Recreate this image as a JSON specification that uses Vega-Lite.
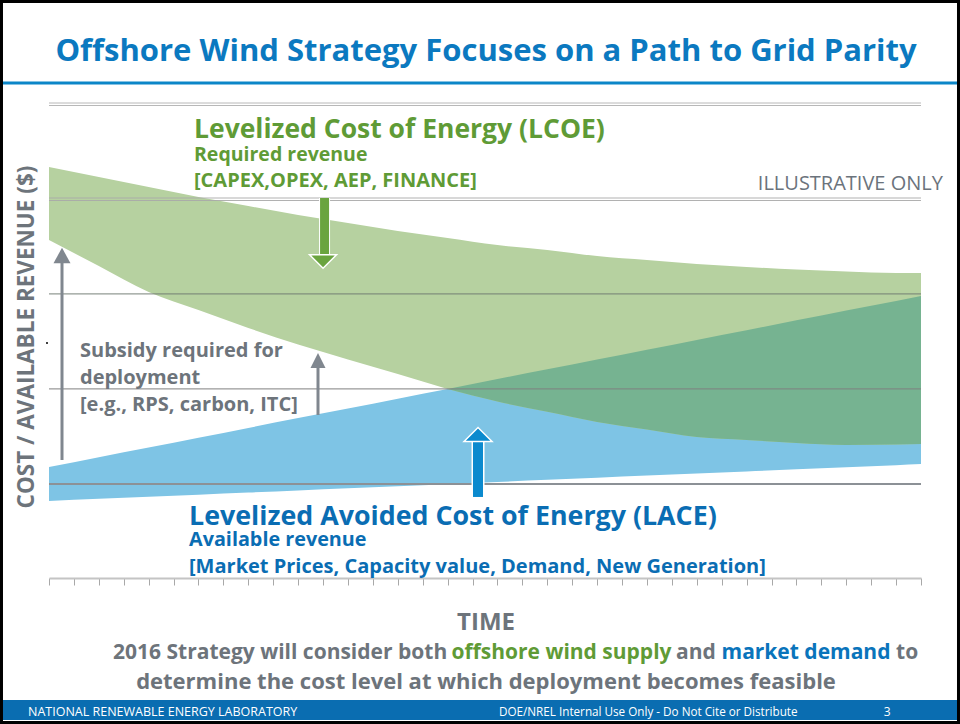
{
  "$schema": "https://vega.github.io/schema/vega-lite/v6.json",
  "width": 872,
  "height": 475,
  "autosize": {"type": "none"},
  "padding": {"left": 49, "top": 103, "right": 39, "bottom": 146},
  "background": "white",
  "config": {
    "view": {"stroke": null},
    "axisY": {"disable": true},
    "axisX": {"tickCount": 35, "labels": false, "grid": false, "domainColor": "#c4c4c4", "domainWidth": 2, "tickColor": "#a8a8a8", "tickSize": 7, "tickWidth": 1},
    "text": {"font": "Open Sans", "fontWeight": "bold"}
  },
  "datasets": {
    "bands": [
      {"t": 0, "gh": 4.326, "gl": 3.558, "bh": 1.168, "bl": 0.811},
      {"t": 2, "gh": 4.221, "gl": 3.284, "bh": 1.272, "bl": 0.833},
      {"t": 4, "gh": 4.116, "gl": 3.011, "bh": 1.374, "bl": 0.855},
      {"t": 6, "gh": 4.011, "gl": 2.821, "bh": 1.477, "bl": 0.877},
      {"t": 8, "gh": 3.916, "gl": 2.632, "bh": 1.58, "bl": 0.9},
      {"t": 10, "gh": 3.821, "gl": 2.458, "bh": 1.683, "bl": 0.922},
      {"t": 12, "gh": 3.737, "gl": 2.301, "bh": 1.785, "bl": 0.944},
      {"t": 14, "gh": 3.653, "gl": 2.147, "bh": 1.888, "bl": 0.966},
      {"t": 16, "gh": 3.579, "gl": 1.99, "bh": 1.99, "bl": 0.988},
      {"t": 18, "gh": 3.505, "gl": 1.857, "bh": 2.095, "bl": 1.011},
      {"t": 20, "gh": 3.453, "gl": 1.749, "bh": 2.197, "bl": 1.033},
      {"t": 22, "gh": 3.389, "gl": 1.642, "bh": 2.3, "bl": 1.056},
      {"t": 24, "gh": 3.347, "gl": 1.563, "bh": 2.403, "bl": 1.078},
      {"t": 26, "gh": 3.305, "gl": 1.484, "bh": 2.506, "bl": 1.1},
      {"t": 28, "gh": 3.274, "gl": 1.453, "bh": 2.608, "bl": 1.122},
      {"t": 30, "gh": 3.247, "gl": 1.421, "bh": 2.712, "bl": 1.144},
      {"t": 32, "gh": 3.226, "gl": 1.4, "bh": 2.815, "bl": 1.166},
      {"t": 34, "gh": 3.211, "gl": 1.405, "bh": 2.917, "bl": 1.188},
      {"t": 35, "gh": 3.211, "gl": 1.411, "bh": 2.968, "bl": 1.2}
    ],
    "one": [{}]
  },
  "layer": [
    {
      "data": {"name": "bands"},
      "mark": {"type": "area", "color": "#7ec4e5", "interpolate": "monotone"},
      "encoding": {
        "x": {"field": "t", "type": "quantitative",
              "scale": {"domain": [0, 35], "nice": false, "zero": false},
              "axis": {"title": null, "labels": false, "grid": false, "tickCount": 35}},
        "y": {"field": "bl", "type": "quantitative", "scale": {"domain": [0, 5], "nice": false, "zero": false}},
        "y2": {"field": "bh"}
      }
    },
    {
      "data": {"name": "bands"},
      "mark": {"type": "area", "color": "#b6d1a0", "interpolate": "monotone"},
      "encoding": {
        "x": {"field": "t", "type": "quantitative"},
        "y": {"field": "gl", "type": "quantitative"},
        "y2": {"field": "gh"}
      }
    },
    {
      "data": {"name": "bands"},
      "transform": [{"filter": "datum.t >= 16"}],
      "mark": {"type": "area", "color": "#76b391", "interpolate": "monotone"},
      "encoding": {
        "x": {"field": "t", "type": "quantitative"},
        "y": {"field": "gl", "type": "quantitative"},
        "y2": {"field": "bh"}
      }
    },
    {
      "data": {"name": "one"},
      "mark": {"type": "rule", "color": "#b8b8b8", "strokeWidth": 1},
      "encoding": {"x": {"datum": 0}, "x2": {"datum": 35}, "y": {"datum": 5}}
    },
    {
      "data": {"name": "one"},
      "mark": {"type": "rule", "color": "#b8b8b8", "strokeWidth": 1, "yOffset": 2.5},
      "encoding": {"x": {"datum": 0}, "x2": {"datum": 35}, "y": {"datum": 5}}
    },
    {
      "data": {"name": "one"},
      "mark": {"type": "rule", "color": "#a8a8a8", "strokeWidth": 1, "opacity": 0.9},
      "encoding": {"x": {"datum": 0}, "x2": {"datum": 35}, "y": {"datum": 4}}
    },
    {
      "data": {"name": "one"},
      "mark": {"type": "rule", "color": "#a8a8a8", "strokeWidth": 1, "opacity": 0.9, "yOffset": 2.5},
      "encoding": {"x": {"datum": 0}, "x2": {"datum": 35}, "y": {"datum": 4}}
    },
    {
      "data": {"name": "one"},
      "mark": {"type": "rule", "color": "#6f7a70", "strokeWidth": 1.2, "opacity": 0.75},
      "encoding": {"x": {"datum": 0}, "x2": {"datum": 35}, "y": {"datum": 2.99}}
    },
    {
      "data": {"name": "one"},
      "mark": {"type": "rule", "color": "#7f7f7f", "strokeWidth": 1.2, "opacity": 0.8},
      "encoding": {"x": {"datum": 0}, "x2": {"datum": 35}, "y": {"datum": 1.99}}
    },
    {
      "data": {"name": "one"},
      "mark": {"type": "rule", "color": "#8c9196", "strokeWidth": 2},
      "encoding": {"x": {"datum": 0}, "x2": {"datum": 35}, "y": {"datum": 0.99}}
    },
    {
      "data": {"name": "one"},
      "mark": {"type": "rule", "color": "#ffffff", "strokeWidth": 11},
      "encoding": {"x": {"datum": 11.06}, "y": {"datum": 4.0}, "y2": {"datum": 3.39}}
    },
    {
      "data": {"name": "one"},
      "mark": {"type": "rule", "color": "#6aa43f", "strokeWidth": 9},
      "encoding": {"x": {"datum": 11.06}, "y": {"datum": 4.0}, "y2": {"datum": 3.39}}
    },
    {
      "data": {"name": "one"},
      "mark": {"type": "point", "shape": "M-1,-0.5L1,-0.5L0,0.5Z", "filled": true, "color": "#6aa43f", "stroke": "#ffffff", "strokeWidth": 1.5, "size": 729, "opacity": 1},
      "encoding": {"x": {"datum": 11.0}, "y": {"datum": 3.332}}
    },
    {
      "data": {"name": "one"},
      "mark": {"type": "rule", "color": "#ffffff", "strokeWidth": 13},
      "encoding": {"x": {"datum": 17.22}, "y": {"datum": 1.45}, "y2": {"datum": 0.853}}
    },
    {
      "data": {"name": "one"},
      "mark": {"type": "rule", "color": "#0b8ace", "strokeWidth": 10},
      "encoding": {"x": {"datum": 17.22}, "y": {"datum": 1.45}, "y2": {"datum": 0.853}}
    },
    {
      "data": {"name": "one"},
      "mark": {"type": "point", "shape": "M-1,0.5L1,0.5L0,-0.5Z", "filled": true, "color": "#0b8ace", "stroke": "#ffffff", "strokeWidth": 1.5, "size": 784, "opacity": 1},
      "encoding": {"x": {"datum": 17.22}, "y": {"datum": 1.511}}
    },
    {
      "data": {"name": "one"},
      "mark": {"type": "rule", "color": "#80878f", "strokeWidth": 3},
      "encoding": {"x": {"datum": 0.522}, "y": {"datum": 3.32}, "y2": {"datum": 1.242}}
    },
    {
      "data": {"name": "one"},
      "mark": {"type": "point", "shape": "M-1,0.9L1,0.9L0,-0.9Z", "filled": true, "color": "#80878f", "size": 289, "opacity": 1},
      "encoding": {"x": {"datum": 0.522}, "y": {"datum": 3.395}}
    },
    {
      "data": {"name": "one"},
      "mark": {"type": "rule", "color": "#80878f", "strokeWidth": 3},
      "encoding": {"x": {"datum": 10.797}, "y": {"datum": 2.22}, "y2": {"datum": 1.716}}
    },
    {
      "data": {"name": "one"},
      "mark": {"type": "point", "shape": "M-1,1L1,1L0,-1Z", "filled": true, "color": "#80878f", "size": 225, "opacity": 1},
      "encoding": {"x": {"datum": 10.797}, "y": {"datum": 2.289}}
    },
    {
      "data": {"name": "one"},
      "mark": {"type": "point", "filled": true, "color": "#000000", "size": 4, "opacity": 1},
      "encoding": {"x": {"datum": -0.08}, "y": {"datum": 2.474}}
    },
    {
      "data": {"name": "one"},
      "mark": {"type": "rule", "color": "#0b86c8", "strokeWidth": 3},
      "encoding": {"x": {"datum": -1.886}, "x2": {"datum": 36.48}, "y": {"datum": 5.211}}
    },
    {
      "data": {"name": "one"},
      "mark": {"type": "rect", "color": "#0a6db1"},
      "encoding": {"x": {"datum": -1.886}, "x2": {"datum": 36.48}, "y": {"datum": -1.284}, "y2": {"datum": -1.495}}
    },
    {
      "data": {"name": "one"},
      "mark": {"type": "rect", "fill": null, "filled": false, "stroke": "#000000", "strokeWidth": 3},
      "encoding": {"x": {"datum": -1.907}, "x2": {"datum": 36.505}, "y": {"datum": 6.068}, "y2": {"datum": -1.521}}
    },
    {
      "data": {"name": "one"},
      "mark": {"type": "text", "text": "Offshore Wind Strategy Focuses on a Path to Grid Parity", "fontSize": 31, "color": "#0b79c0", "align": "center", "baseline": "alphabetic"},
      "encoding": {"x": {"datum": 17.54}, "y": {"datum": 5.442}}
    },
    {
      "data": {"name": "one"},
      "mark": {"type": "text", "text": "Levelized Cost of Energy (LCOE)", "fontSize": 26.5, "color": "#5f9b36", "align": "left", "baseline": "alphabetic"},
      "encoding": {"x": {"datum": 5.82}, "y": {"datum": 4.63}}
    },
    {
      "data": {"name": "one"},
      "mark": {"type": "text", "text": "Required revenue", "fontSize": 19.5, "color": "#5f9b36", "align": "left", "baseline": "alphabetic"},
      "encoding": {"x": {"datum": 5.82}, "y": {"datum": 4.39}}
    },
    {
      "data": {"name": "one"},
      "mark": {"type": "text", "text": "[CAPEX,OPEX, AEP, FINANCE]", "fontSize": 20, "color": "#5f9b36", "align": "left", "baseline": "alphabetic"},
      "encoding": {"x": {"datum": 5.82}, "y": {"datum": 4.116}}
    },
    {
      "data": {"name": "one"},
      "mark": {"type": "text", "text": "ILLUSTRATIVE ONLY", "fontSize": 20, "fontWeight": "normal", "color": "#6b737c", "align": "right", "baseline": "alphabetic"},
      "encoding": {"x": {"datum": 35.88}, "y": {"datum": 4.084}}
    },
    {
      "data": {"name": "one"},
      "mark": {"type": "text", "text": "Subsidy required for", "fontSize": 20, "color": "#6d747b", "align": "left", "baseline": "alphabetic"},
      "encoding": {"x": {"datum": 1.244}, "y": {"datum": 2.326}}
    },
    {
      "data": {"name": "one"},
      "mark": {"type": "text", "text": "deployment", "fontSize": 20, "color": "#6d747b", "align": "left", "baseline": "alphabetic"},
      "encoding": {"x": {"datum": 1.244}, "y": {"datum": 2.042}}
    },
    {
      "data": {"name": "one"},
      "mark": {"type": "text", "text": "[e.g., RPS, carbon, ITC]", "fontSize": 20, "color": "#6d747b", "align": "left", "baseline": "alphabetic"},
      "encoding": {"x": {"datum": 1.244}, "y": {"datum": 1.758}}
    },
    {
      "data": {"name": "one"},
      "mark": {"type": "text", "text": "Levelized Avoided Cost of Energy (LACE)", "fontSize": 26.8, "color": "#0a6db3", "align": "left", "baseline": "alphabetic"},
      "encoding": {"x": {"datum": 5.619}, "y": {"datum": 0.558}}
    },
    {
      "data": {"name": "one"},
      "mark": {"type": "text", "text": "Available revenue", "fontSize": 19.8, "color": "#0a6db3", "align": "left", "baseline": "alphabetic"},
      "encoding": {"x": {"datum": 5.619}, "y": {"datum": 0.337}}
    },
    {
      "data": {"name": "one"},
      "mark": {"type": "text", "text": "[Market Prices, Capacity value, Demand, New Generation]", "fontSize": 20, "color": "#0a6db3", "align": "left", "baseline": "alphabetic"},
      "encoding": {"x": {"datum": 5.619}, "y": {"datum": 0.053}}
    },
    {
      "data": {"name": "one"},
      "mark": {"type": "text", "text": "COST / AVAILABLE REVENUE ($)", "fontSize": 22.5, "angle": 270, "color": "#6d747b", "align": "center", "baseline": "middle"},
      "encoding": {"x": {"datum": -0.883}, "y": {"datum": 2.537}}
    },
    {
      "data": {"name": "one"},
      "mark": {"type": "text", "text": "TIME", "fontSize": 24, "color": "#6d747b", "align": "center", "baseline": "alphabetic"},
      "encoding": {"x": {"datum": 17.54}, "y": {"datum": -0.547}}
    },
    {
      "data": {"name": "one"},
      "mark": {"type": "text", "text": "2016 Strategy will consider both", "fontSize": 21, "color": "#6d747b", "align": "left", "baseline": "alphabetic"},
      "encoding": {"x": {"datum": 2.569}, "y": {"datum": -0.853}}
    },
    {
      "data": {"name": "one"},
      "mark": {"type": "text", "text": "offshore wind supply", "fontSize": 21, "color": "#5f9b36", "align": "left", "baseline": "alphabetic"},
      "encoding": {"x": {"datum": 16.156}, "y": {"datum": -0.853}}
    },
    {
      "data": {"name": "one"},
      "mark": {"type": "text", "text": "and", "fontSize": 21, "color": "#6d747b", "align": "left", "baseline": "alphabetic"},
      "encoding": {"x": {"datum": 25.167}, "y": {"datum": -0.853}}
    },
    {
      "data": {"name": "one"},
      "mark": {"type": "text", "text": "market demand", "fontSize": 21, "color": "#0a74bb", "align": "left", "baseline": "alphabetic"},
      "encoding": {"x": {"datum": 26.993}, "y": {"datum": -0.853}}
    },
    {
      "data": {"name": "one"},
      "mark": {"type": "text", "text": "to", "fontSize": 21, "color": "#6d747b", "align": "left", "baseline": "alphabetic"},
      "encoding": {"x": {"datum": 34.0}, "y": {"datum": -0.853}}
    },
    {
      "data": {"name": "one"},
      "mark": {"type": "text", "text": "determine the cost level at which deployment becomes feasible", "fontSize": 22, "color": "#6d747b", "align": "center", "baseline": "alphabetic"},
      "encoding": {"x": {"datum": 17.54}, "y": {"datum": -1.168}}
    },
    {
      "data": {"name": "one"},
      "mark": {"type": "text", "text": "NATIONAL RENEWABLE ENERGY LABORATORY", "fontSize": 12.5, "fontWeight": "normal", "color": "#ffffff", "align": "left", "baseline": "alphabetic"},
      "encoding": {"x": {"datum": -0.843}, "y": {"datum": -1.453}}
    },
    {
      "data": {"name": "one"},
      "mark": {"type": "text", "text": "DOE/NREL Internal Use Only - Do Not Cite or Distribute", "fontSize": 11.7, "fontWeight": "normal", "color": "#ffffff", "align": "left", "baseline": "alphabetic"},
      "encoding": {"x": {"datum": 18.06}, "y": {"datum": -1.453}}
    },
    {
      "data": {"name": "one"},
      "mark": {"type": "text", "text": "3", "fontSize": 12, "fontWeight": "normal", "color": "#ffffff", "align": "center", "baseline": "alphabetic"},
      "encoding": {"x": {"datum": 33.64}, "y": {"datum": -1.453}}
    }
  ]
}
